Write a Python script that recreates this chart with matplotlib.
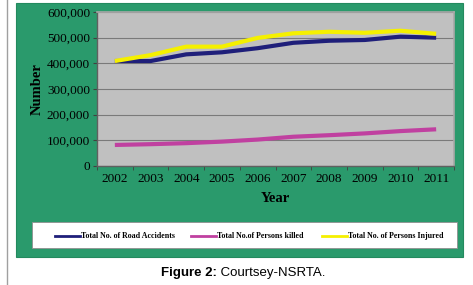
import matplotlib
matplotlib.use("Agg")
import matplotlib.pyplot as plt
from matplotlib.patches import Rectangle
from matplotlib.lines import Line2D
from matplotlib.ticker import FuncFormatter, MultipleLocator

years = ["2002", "2003", "2004", "2005", "2006", "2007", "2008", "2009", "2010", "2011"]
accidents = [409000, 409000, 435000, 443000, 459000, 480000, 488000, 491000, 504000, 500000]
killed = [82000, 85000, 89000, 95000, 103000, 114000, 120000, 127000, 136000, 143000]
injured = [409000, 432000, 465000, 465000, 499000, 517000, 523000, 519000, 527000, 515000]
series_labels = ["Total No. of Road Accidents", "Total No.of Persons killed", "Total No. of Persons Injured"]
caption_bold = "Figure 2:"
caption_rest = " Courtsey-NSRTA."

W, H = 473, 285
fig = plt.figure(figsize=(W / 100, H / 100), dpi=100)
fig.patch.set_facecolor("white")

def fx(px):
    return px / W

def fy(py):
    return 1 - py / H

# left gray rule
fig.add_artist(Line2D([fx(6.5), fx(6.5)], [fy(0), fy(285)], color="#a0a0a0", lw=1.0))
# green panel
fig.add_artist(Rectangle((fx(16), fy(257)), fx(463) - fx(16), fy(3) - fy(257),
                         facecolor="#2a9a6c", edgecolor="#238a5e", lw=0.8, zorder=0))

ax = fig.add_axes([fx(97), fy(166), fx(454) - fx(97), fy(12) - fy(166)])
ax.set_facecolor("#c0c0c0")
x = list(range(len(years)))
ax.plot(x, accidents, color="#1f1f7a", lw=3.0, solid_capstyle="butt", zorder=3)
ax.plot(x, killed, color="#c040a0", lw=3.0, solid_capstyle="butt", zorder=3)
ax.plot(x, injured, color="#f5f000", lw=3.0, solid_capstyle="butt", zorder=4)

ax.set_xlim(-0.5, len(years) - 0.5)
ax.set_ylim(0, 600000)
ax.yaxis.set_major_locator(MultipleLocator(100000))
ax.yaxis.set_major_formatter(FuncFormatter(lambda v, p: f"{int(v):,}"))
ax.set_xticks(x)
ax.set_xticklabels(years)
ax.set_xticks([i - 0.5 for i in range(len(years) + 1)], minor=True)
ax.tick_params(axis="x", which="major", length=0, pad=5)
ax.tick_params(axis="x", which="minor", length=3, color="#404040")
ax.tick_params(axis="y", length=3, color="#404040", pad=2)
ax.grid(axis="y", color="#7a7a7a", lw=0.8)
ax.set_axisbelow(True)
for lab in ax.get_xticklabels() + ax.get_yticklabels():
    lab.set_fontfamily("Liberation Serif")
    lab.set_fontsize(9.5)
    lab.set_color("black")
for s in ["top", "right"]:
    ax.spines[s].set_color("#a8a8a8")
    ax.spines[s].set_linewidth(1.2)
for s in ["left", "bottom"]:
    ax.spines[s].set_color("#606060")
    ax.spines[s].set_linewidth(1.0)
ax.set_ylabel("Number", fontfamily="Liberation Serif", fontweight="bold", fontsize=10.5, labelpad=2)
ax.set_xlabel("Year", fontfamily="Liberation Serif", fontweight="bold", fontsize=10.5, labelpad=5)

# legend box
fig.add_artist(Rectangle((fx(32), fy(248)), fx(457) - fx(32), fy(222) - fy(248),
                         facecolor="white", edgecolor="#909090", lw=0.6, zorder=2))
colors = ["#1f1f7a", "#c040a0", "#f5f000"]
starts = [55, 191, 322]
for c, sx, lab in zip(colors, starts, series_labels):
    fig.add_artist(Line2D([fx(sx), fx(sx + 25)], [fy(235.5), fy(235.5)], color=c, lw=2.0, zorder=3))
    fig.text(fx(sx + 26), fy(235.5), lab, fontfamily="Liberation Serif", fontweight="bold",
             fontsize=5.7, va="center", ha="left", zorder=4)

# caption
t1 = fig.text(fx(161), fy(273), caption_bold, fontfamily="Liberation Sans", fontweight="bold",
              fontsize=9.5, va="center", ha="left")
fig.canvas.draw()
bb = t1.get_window_extent()
fig.text(bb.x1 / (W), fy(273), caption_rest, fontfamily="Liberation Sans",
         fontsize=9.5, va="center", ha="left")

fig.savefig("out.png", dpi=100, facecolor="white")
